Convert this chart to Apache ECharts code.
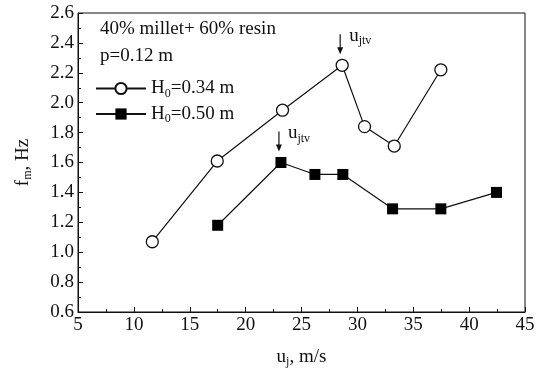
<!DOCTYPE html>
<html><head><meta charset="utf-8">
<script src="https://cdn.jsdelivr.net/npm/echarts@6/dist/echarts.min.js"></script>
<style>html,body{margin:0;padding:0;background:#fff}#c{width:543px;height:375px}</style>
</head><body><div id="c"></div>
<script>
// ---- data ----
const seriesNames = ['H0=0.34 m', 'H0=0.50 m'];
const h034X = [11.65, 17.46, 23.3, 28.64, 30.64, 33.3, 37.47];
const h034Y = [1.07, 1.61, 1.95, 2.25, 1.84, 1.71, 2.22];
const h050X = [17.5, 23.16, 26.2, 28.7, 33.15, 37.47, 42.45];
const h050Y = [1.18, 1.60, 1.52, 1.52, 1.29, 1.29, 1.40];
const xTickLabels = [5, 10, 15, 20, 25, 30, 35, 40, 45];
const yTickLabels = [0.6, 0.8, 1.0, 1.2, 1.4, 1.6, 1.8, 2.0, 2.2, 2.4, 2.6];
const noteLines = ['40% millet+ 60% resin', 'p=0.12 m'];
const arrowTargets = [[0, 3], [1, 1]]; // [series, point] marked as u_jtv

const FONT = 'Liberation Serif';
const FS = 19;
const INK = '#111';
const chart = echarts.init(document.getElementById('c'));
const pts = (xs, ys) => xs.map((x, i) => [x, ys[i]]);
const subRich = {
  n: { fontFamily: FONT, fontSize: FS, color: INK, lineHeight: 22 },
  s: { fontFamily: FONT, fontSize: 12, color: INK, lineHeight: 11, verticalAlign: 'bottom' }
};
const legendFmt = name => {
  const m = name.match(/^H0(.*)$/);
  return '{n|H}{s|0}{n|' + m[1] + '}';
};

chart.setOption({
  animation: false,
  backgroundColor: '#fff',
  grid: { left: 78, right: 18, top: 13, bottom: 63, show: true, borderColor: INK, borderWidth: 1 },
  xAxis: {
    type: 'value', min: xTickLabels[0], max: xTickLabels[xTickLabels.length - 1], interval: 5,
    name: '{n|u}{s|j}{n|, m/s}', nameLocation: 'middle', nameGap: 34,
    nameTextStyle: { rich: subRich },
    axisLine: { lineStyle: { color: INK, width: 1 } },
    axisTick: { inside: true, length: 5, lineStyle: { color: INK } },
    minorTick: { show: true, splitNumber: 2, length: 3, lineStyle: { color: INK } },
    axisLabel: { fontFamily: FONT, fontSize: FS, color: INK, margin: 4 },
    splitLine: { show: false }
  },
  yAxis: {
    type: 'value', min: yTickLabels[0], max: yTickLabels[yTickLabels.length - 1], interval: 0.2,
    name: '{n|f}{s|m}{n|, Hz}', nameLocation: 'middle', nameGap: 44, nameRotate: 90,
    nameTextStyle: { rich: subRich },
    axisLine: { show: true, lineStyle: { color: INK, width: 1 } },
    axisTick: { inside: true, length: 5, lineStyle: { color: INK } },
    minorTick: { show: true, splitNumber: 2, length: 3, lineStyle: { color: INK } },
    axisLabel: { fontFamily: FONT, fontSize: FS, color: INK, margin: 4, formatter: v => v.toFixed(1) },
    splitLine: { show: false }
  },
  legend: {
    orient: 'vertical', left: 95, top: 79, padding: 0, itemGap: 5,
    itemWidth: 50, itemHeight: 14,
    formatter: legendFmt,
    textStyle: { rich: subRich },
    data: seriesNames
  },
  series: [
    {
      name: seriesNames[0], type: 'line', data: pts(h034X, h034Y),
      symbol: 'circle', symbolSize: 12,
      itemStyle: { color: '#fff', borderColor: INK, borderWidth: 1.3 },
      lineStyle: { color: INK, width: 1.2 }
    },
    {
      name: seriesNames[1], type: 'line', data: pts(h050X, h050Y),
      symbol: 'rect', symbolSize: 11,
      itemStyle: { color: '#000', borderColor: '#000', borderWidth: 0 },
      lineStyle: { color: INK, width: 1.2 }
    }
  ]
});

// annotations
const allPts = [pts(h034X, h034Y), pts(h050X, h050Y)];
const graphics = [];
noteLines.forEach((t, i) => {
  graphics.push({ type: 'text', left: 100, top: 20 + i * 27,
    style: { text: t, font: FS + 'px "' + FONT + '"', fill: INK } });
});
arrowTargets.forEach(([s, p]) => {
  const [px, py] = chart.convertToPixel({ gridIndex: 0 }, allPts[s][p]);
  const ax = px - 2, yb = py - 11, yt = py - 31;
  graphics.push({ type: 'line', shape: { x1: ax, y1: yt, x2: ax, y2: yb - 5 }, style: { stroke: INK, lineWidth: 1.2 } });
  graphics.push({ type: 'polygon', shape: { points: [[ax - 3, yb - 7], [ax + 3, yb - 7], [ax, yb]] }, style: { fill: INK } });
  graphics.push({ type: 'text', x: ax + 9, y: yt - 9,
    style: { text: '{n|u}{s|jtv}', rich: subRich, fill: INK } });
});
chart.setOption({ graphic: graphics });
</script></body></html>
